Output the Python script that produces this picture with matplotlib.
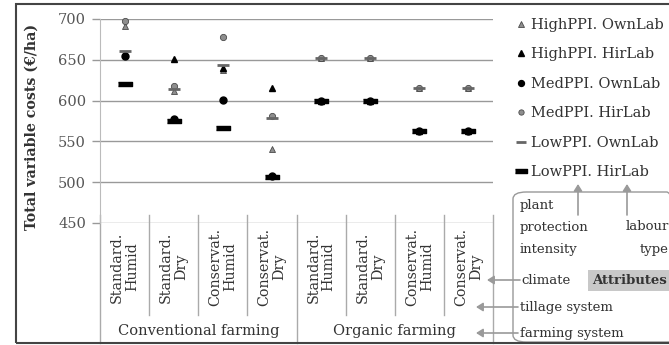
import matplotlib
matplotlib.use("Agg")
import matplotlib.pyplot as plt
from matplotlib.patches import Rectangle, FancyBboxPatch, FancyArrowPatch

plt.rcParams["font.family"] = ["DejaVu Serif"]

# Data
categories = ["Standard.\nHumid", "Standard.\nDry", "Conservat.\nHumid", "Conservat.\nDry",
              "Standard.\nHumid", "Standard.\nDry", "Conservat.\nHumid", "Conservat.\nDry"]
groups = ["Conventional farming", "Organic farming"]

high_own = [691, 612, 638, 541, 652, 652, 615, 615]
high_hir = [657, 651, 640, 615, 600, 600, 563, 563]
med_own = [655, 578, 601, 508, 600, 600, 563, 563]
med_hir = [697, 618, 678, 581, 652, 652, 615, 615]
low_own = [661, 614, 644, 579, 652, 652, 615, 615]
low_hir = [620, 575, 566, 506, 600, 600, 563, 563]

yticks = [450, 500, 550, 600, 650, 700]

W, H = 669, 345
fig = plt.figure(figsize=(W / 100, H / 100), dpi=100)


def fx(px):
    return px / W


def fy(py):
    return 1 - py / H


ax = fig.add_axes([fx(100), fy(223), fx(493) - fx(100), fy(19) - fy(223)])
x = list(range(len(categories)))

grey = "#8e8e8e"
dark = "#4a4a4a"
bar = [(-1, -0.3), (1, -0.3), (1, 0.3), (-1, 0.3)]

ax.plot(x, high_own, ls="none", marker="^", ms=4.5, mfc=grey, mec=dark, mew=0.6,
        label="HighPPI. OwnLab", clip_on=False, zorder=3)
ax.plot(x, high_hir, ls="none", marker="^", ms=5, color="black",
        label="HighPPI. HirLab", clip_on=False, zorder=3)
ax.plot(x, med_own, ls="none", marker="o", ms=5, color="black",
        label="MedPPI. OwnLab", clip_on=False, zorder=3)
ax.plot(x, med_hir, ls="none", marker="o", ms=4.5, mfc=grey, mec=dark, mew=0.6,
        label="MedPPI. HirLab", clip_on=False, zorder=3)
ax.plot(x, low_own, ls="none", marker="_", ms=8, mew=2, color="#666666",
        label="LowPPI. OwnLab", clip_on=False, zorder=3)
ax.plot(x, low_hir, ls="none", marker=bar, ms=10, color="black",
        label="LowPPI. HirLab", clip_on=False, zorder=3)

ax.set_xlim(-0.5, len(categories) - 0.5)
ax.set_ylim(450, 700)
ax.set_yticks(yticks)
ax.set_xticks([])
ax.tick_params(axis="y", length=6, width=1, color="#999999", labelcolor="#555555",
               labelsize=10.5, pad=4)
ax.yaxis.grid(True, color="#999999", lw=1)
ax.set_axisbelow(True)
for s in ["top", "right", "bottom"]:
    ax.spines[s].set_visible(False)
ax.spines["left"].set_color("#bbbbbb")
ax.set_ylabel("Total variable costs (€/ha)", fontweight="bold", fontsize=10.2, color="#333333")
ax.yaxis.set_label_coords(-0.155, 0.47)

# category table below the axis
tr = ax.get_xaxis_transform()
for i in range(1, len(categories)):
    if i == 4:
        continue
    ax.plot([i - 0.5, i - 0.5], [0.04, -0.45], transform=tr, color="#aaaaaa", lw=1, clip_on=False)
for xb in [-0.5, 3.5, 7.5]:
    ax.plot([xb, xb], [0.04, -0.59], transform=tr, color="#aaaaaa", lw=1, clip_on=False)
for i, lab in enumerate(categories):
    ax.text(i, -0.215, lab, transform=tr, rotation=90, ha="center", va="center",
            multialignment="center", fontsize=10.3, color="#333333", linespacing=1.1)
for g, lab in enumerate(groups):
    ax.text(1.5 + 4 * g, -0.53, lab, transform=tr, ha="center", va="center",
            fontsize=10.5, color="#333333")

# legend
leg = fig.legend(loc="upper left", bbox_to_anchor=(fx(518), fy(18)), frameon=False,
                 handlelength=0.45, handletextpad=0.45, labelspacing=1.06, fontsize=10.5,
                 labelcolor="#333333", borderaxespad=0, borderpad=0, markerscale=0.85)

# attribute box
fig.patches.append(FancyBboxPatch((fx(513), fy(342)), fx(680) - fx(513), fy(192) - fy(342),
                                  boxstyle="round,pad=0,rounding_size=0.02",
                                  transform=fig.transFigure, fc="none", ec="#999999", lw=1))
fig.patches.append(Rectangle((fx(588), fy(291)), fx(680) - fx(588), fy(270) - fy(291),
                             transform=fig.transFigure, fc="#c8c8c8", ec="none"))

small = 9.5
fig.text(fx(520), fy(205), "plant", fontsize=small, va="center", color="#333333")
fig.text(fx(520), fy(227), "protection", fontsize=small, va="center", color="#333333")
fig.text(fx(520), fy(250), "intensity", fontsize=small, va="center", color="#333333")
fig.text(fx(669), fy(227), "labour", fontsize=small, va="center", ha="right", color="#333333")
fig.text(fx(669), fy(250), "type", fontsize=small, va="center", ha="right", color="#333333")
fig.text(fx(521), fy(280), "climate", fontsize=small, va="center", color="#333333")
fig.text(fx(592), fy(280), "Attributes", fontsize=small, va="center", fontweight="bold", color="#333333")
fig.text(fx(520), fy(307), "tillage system", fontsize=small, va="center", color="#333333")
fig.text(fx(520), fy(333), "farming system", fontsize=small, va="center", color="#333333")

arrow_kw = dict(transform=fig.transFigure, arrowstyle="-|>,head_length=4,head_width=2.5",
                color="#9a9a9a", lw=1.2, shrinkA=0, shrinkB=0)
for xa in [578, 627]:
    fig.patches.append(FancyArrowPatch((fx(xa), fy(215)), (fx(xa), fy(184)), **arrow_kw))
fig.patches.append(FancyArrowPatch((fx(520), fy(280)), (fx(487), fy(280)), **arrow_kw))
for ya in [307, 333]:
    fig.patches.append(FancyArrowPatch((fx(518), fy(ya)), (fx(476), fy(ya)), **arrow_kw))

# outer frame
fig.patches.append(Rectangle((fx(16), fy(343)), fx(700) - fx(16), fy(4) - fy(343),
                             transform=fig.transFigure, fc="none", ec="#444444", lw=1.5))

fig.savefig("out.png", dpi=100)
